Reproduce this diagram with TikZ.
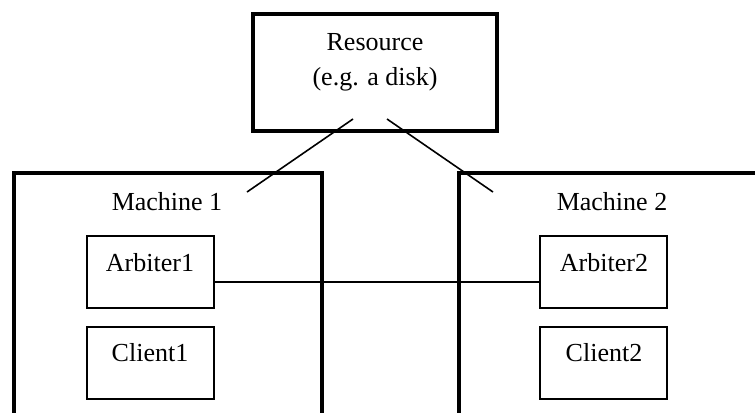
\documentclass[tikz,border=0pt]{standalone}
\usepackage{fontspec}
\setmainfont{Liberation Serif}
\usetikzlibrary{calc}
\begin{document}
\begin{tikzpicture}[x=0.75pt,y=-0.75pt,
  heavy/.style={draw, line width=3pt, inner sep=0pt, outer sep=0pt},
  unit/.style={draw, line width=1.5pt, minimum width=95.25pt, minimum height=54pt, inner sep=0pt, outer sep=0pt},
  lbl/.style={anchor=base, inner sep=0pt, font=\fontsize{19.5}{23}\selectfont},
  wire/.style={line width=1.2pt}]
\useasboundingbox (0,0) rectangle (755,412);
\clip (0,0) rectangle (755,412);

% shared resource
\node[heavy, minimum width=183pt, minimum height=87.75pt] (res) at (375,72.5) {};
\node[lbl] (resT1) at (375,50) {Resource};
\node[lbl] (resT2) at (375,85) {(e.g. a disk)};

% the two machines (they run past the lower and right edges)
\node[heavy, minimum width=231pt, minimum height=207.75pt] (m1) at (168,311.5) {};
\node[heavy, minimum width=233.25pt, minimum height=207.75pt] (m2) at (614.5,311.5) {};
\node[lbl] (m1T) at (167,210) {Machine 1};
\node[lbl] (m2T) at (612,210) {Machine 2};

% processes inside each machine
\node[unit] (a1) at (150.5,272) {};
\node[unit] (c1) at (150.5,363) {};
\node[unit] (a2) at (603.5,272) {};
\node[unit] (c2) at (603.5,363) {};
\node[lbl] (a1T) at (150,271.7) {Arbiter1};
\node[lbl] (c1T) at (150,361.7) {Client1};
\node[lbl] (a2T) at (604,271.7) {Arbiter2};
\node[lbl] (c2T) at (604,361.7) {Client2};

% links
\draw[wire] ($(res.south)+(-22,-12)$) -- ($(m1.north)+(79,19)$);
\draw[wire] ($(res.south)+(12,-12)$) -- ($(m2.north west)+(34,19)$);
\draw[wire] ([yshift=-7.5pt]a1.east) -- ([yshift=-7.5pt]a2.west);
\end{tikzpicture}
\end{document}
